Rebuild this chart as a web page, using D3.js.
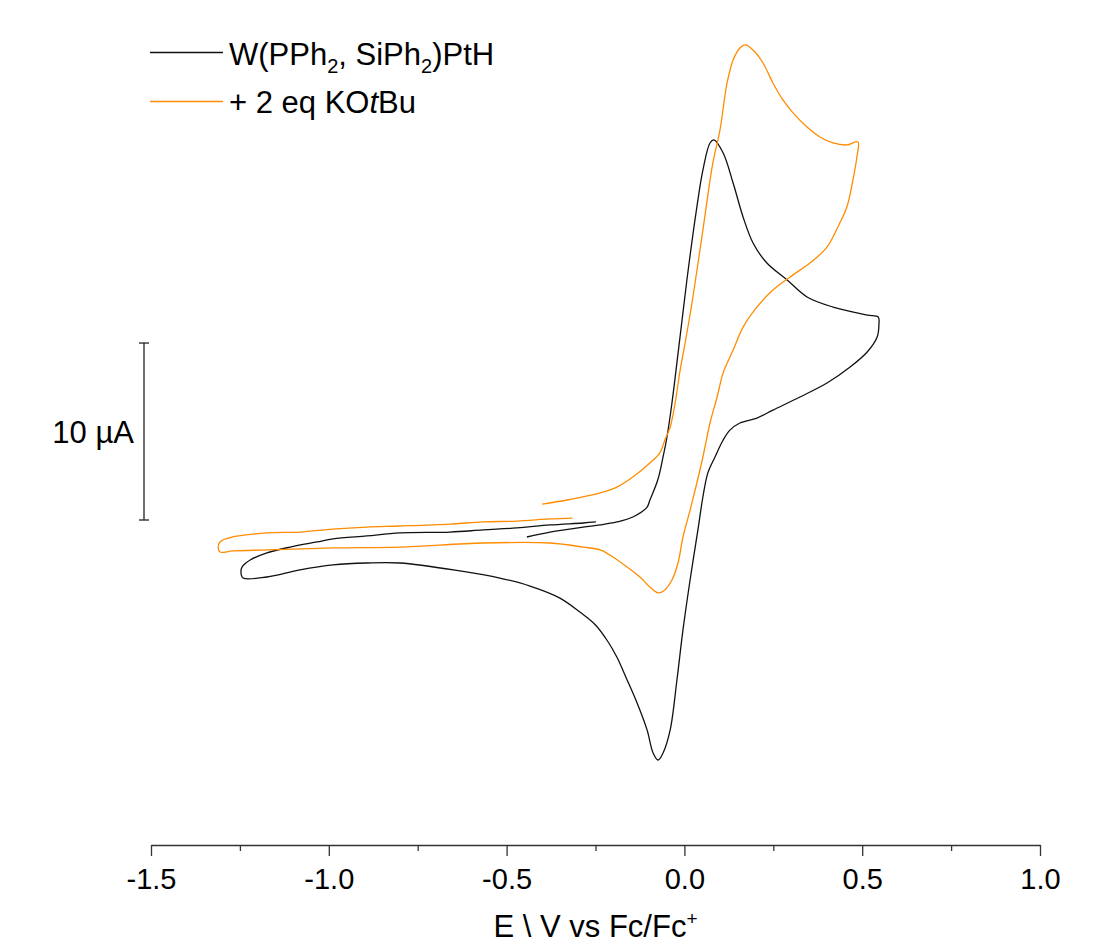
<!DOCTYPE html>
<html lang="en">
<head>
    <meta charset="UTF-8">
    <title>Cyclic voltammogram</title>
    <script src="https://cdnjs.cloudflare.com/ajax/libs/d3/7.8.5/d3.min.js"></script>
    <style>
        body { margin: 0; background: #fff; }
        svg { font-family: "Liberation Sans", Arial, sans-serif; }
        .trace { fill: none; stroke-width: 1.3; stroke-linejoin: round; }
    </style>
</head>
<body>
<svg width="1112" height="946"></svg>
<script>
    // E (V vs Fc/Fc+) and I (uA, offset arbitrary)
    const blackScan = [
        [-0.443, -0.96], [-0.378, -0.68], [-0.285, -0.40], [-0.237, -0.28], [-0.190, -0.11],
        [-0.145, 0.17], [-0.105, 0.73], [-0.097, 1.13], [-0.075, 2.26], [-0.060, 3.56],
        [-0.049, 4.69], [-0.035, 6.61], [-0.015, 9.89], [0.007, 13.56], [0.035, 17.68],
        [0.052, 19.77], [0.072, 21.30], [0.083, 21.47], [0.109, 20.73], [0.137, 19.04],
        [0.165, 17.12], [0.193, 15.65], [0.232, 14.52], [0.289, 13.56], [0.345, 12.60],
        [0.418, 12.03], [0.514, 11.58], [0.545, 11.47], [0.547, 11.02], [0.542, 10.34],
        [0.514, 9.49], [0.466, 8.64], [0.401, 7.74], [0.325, 6.95], [0.249, 6.21],
        [0.204, 5.76], [0.156, 5.48], [0.128, 5.08], [0.109, 4.52], [0.086, 3.56],
        [0.066, 2.66], [0.052, 1.30], [0.038, -0.56], [0.016, -3.39], [-0.004, -6.21],
        [-0.021, -9.04], [-0.040, -11.86], [-0.060, -13.16], [-0.074, -13.56], [-0.088, -13.16],
        [-0.105, -11.86], [-0.133, -10.34], [-0.161, -9.04], [-0.190, -7.74], [-0.218, -6.78],
        [-0.250, -5.93], [-0.294, -5.20], [-0.350, -4.41], [-0.434, -3.73], [-0.519, -3.28],
        [-0.631, -2.88], [-0.800, -2.43], [-0.893, -2.43], [-0.988, -2.54], [-1.081, -2.82],
        [-1.174, -3.22], [-1.241, -3.28], [-1.247, -2.94], [-1.244, -2.66], [-1.221, -2.26],
        [-1.174, -1.86], [-1.109, -1.53], [-1.033, -1.24], [-0.988, -1.07], [-0.893, -0.90],
        [-0.800, -0.73], [-0.659, -0.68], [-0.566, -0.56], [-0.471, -0.45], [-0.378, -0.28],
        [-0.285, -0.17], [-0.249, -0.11]
    ];

    const orangeScan = [
        [-0.400, 0.90], [-0.330, 1.13], [-0.237, 1.53], [-0.190, 1.86], [-0.145, 2.43],
        [-0.097, 3.22], [-0.069, 3.79], [-0.055, 4.52], [-0.040, 5.25], [-0.026, 6.61],
        [-0.012, 8.47], [0.002, 10.00], [0.024, 12.60], [0.052, 16.38], [0.080, 20.17],
        [0.100, 22.03], [0.120, 24.69], [0.137, 25.99], [0.156, 26.67], [0.171, 26.84],
        [0.193, 26.55], [0.221, 25.82], [0.249, 24.69], [0.277, 23.73], [0.306, 22.99],
        [0.345, 22.20], [0.381, 21.64], [0.418, 21.30], [0.457, 21.19], [0.488, 21.36],
        [0.485, 20.51], [0.474, 19.21], [0.457, 17.68], [0.437, 16.78], [0.401, 15.42],
        [0.353, 14.52], [0.297, 13.73], [0.249, 12.99], [0.204, 12.03], [0.165, 10.90],
        [0.137, 9.60], [0.109, 8.31], [0.092, 6.95], [0.072, 5.48], [0.052, 3.56],
        [0.035, 2.09], [0.016, 0.56], [-0.004, -0.96], [-0.018, -2.43], [-0.035, -3.39],
        [-0.055, -3.95], [-0.074, -4.12], [-0.097, -3.79], [-0.125, -3.22], [-0.161, -2.66],
        [-0.201, -2.09], [-0.237, -1.69], [-0.285, -1.53], [-0.378, -1.30], [-0.566, -1.30],
        [-0.800, -1.53], [-0.988, -1.58], [-1.174, -1.69], [-1.270, -1.75], [-1.306, -1.81],
        [-1.311, -1.58], [-1.306, -1.24], [-1.270, -0.96], [-1.174, -0.73], [-1.081, -0.68],
        [-0.988, -0.51], [-0.893, -0.40], [-0.800, -0.34], [-0.659, -0.23], [-0.566, -0.11],
        [-0.471, -0.06], [-0.378, 0.06], [-0.315, 0.11]
    ];

    const majorTicks = [-1.5, -1.0, -0.5, 0.0, 0.5, 1.0];
    const minorTicks = [-1.25, -0.75, -0.25, 0.25, 0.75];
    const scaleBar = [0, 10];

    const svg = d3.select("svg");
    const x = d3.scaleLinear().domain([-1.5, 1.0]).range([151, 1040]);
    const y = d3.scaleLinear().domain([0, 10]).range([520, 343]);
    const axisY = 845;

    const line = d3.line()
        .x(d => x(d[0]))
        .y(d => y(d[1]))
        .curve(d3.curveCatmullRom.alpha(0.5));

    svg.append("path").datum(blackScan).attr("class", "trace")
        .attr("stroke", "#111").attr("d", line);
    svg.append("path").datum(orangeScan).attr("class", "trace")
        .attr("stroke", "#ff8c00").attr("d", line);

    // x axis: labelled major ticks, then short unlabelled minor ticks
    const gx = svg.append("g").attr("transform", `translate(0,${axisY})`);
    gx.call(d3.axisBottom(x).tickValues(majorTicks).tickSize(11).tickSizeOuter(0));
    gx.selectAll(".tick text")
        .attr("y", 44).attr("dy", 0)
        .attr("fill", "#000")
        .style("font-size", "29px")
        .style("font-family", "'Liberation Sans', Arial, sans-serif")
        .text(d => d3.format(".1f")(d).replace("−", "-"));
    const gm = gx.append("g")
        .call(d3.axisBottom(x).tickValues(minorTicks).tickSize(6).tickFormat(""));
    gm.select(".domain").remove();
    gm.selectAll("text").remove();
    gx.selectAll("path, line").attr("stroke", "#333").attr("stroke-width", 1.3);

    const title = svg.append("text")
        .attr("x", (x(-1.5) + x(1.0)) / 2).attr("y", 937)
        .attr("text-anchor", "middle").style("font-size", "31px");
    title.append("tspan").text("E \\ V vs Fc/Fc");
    title.append("tspan").text("+").attr("dy", -12).style("font-size", "19px");

    // scale bar
    const sb = svg.append("g").attr("stroke", "#222").attr("stroke-width", 1.3);
    sb.append("line").attr("x1", 144).attr("x2", 144)
        .attr("y1", y(scaleBar[0])).attr("y2", y(scaleBar[1]));
    scaleBar.forEach(v => sb.append("line").attr("x1", 139).attr("x2", 149)
        .attr("y1", y(v)).attr("y2", y(v)));
    svg.append("text").attr("x", 134).attr("y", 443)
        .attr("text-anchor", "end").style("font-size", "31px").text("10 µA");

    // legend
    const legend = svg.append("g");
    legend.append("line").attr("x1", 150).attr("x2", 223).attr("y1", 52.5).attr("y2", 52.5)
        .attr("stroke", "#111").attr("stroke-width", 1.3);
    legend.append("line").attr("x1", 150).attr("x2", 223).attr("y1", 101.5).attr("y2", 101.5)
        .attr("stroke", "#ff8c00").attr("stroke-width", 1.3);

    const l1 = legend.append("text").attr("x", 229).attr("y", 65).style("font-size", "31px");
    l1.append("tspan").text("W(PPh");
    l1.append("tspan").text("2").attr("dy", 8).style("font-size", "20px");
    l1.append("tspan").text(", SiPh").attr("dy", -8);
    l1.append("tspan").text("2").attr("dy", 8).style("font-size", "20px");
    l1.append("tspan").text(")PtH").attr("dy", -8);

    const l2 = legend.append("text").attr("x", 229).attr("y", 113).style("font-size", "31px");
    l2.append("tspan").text("+ 2 eq KO");
    l2.append("tspan").text("t").style("font-style", "italic");
    l2.append("tspan").text("Bu");
</script>
</body>
</html>
